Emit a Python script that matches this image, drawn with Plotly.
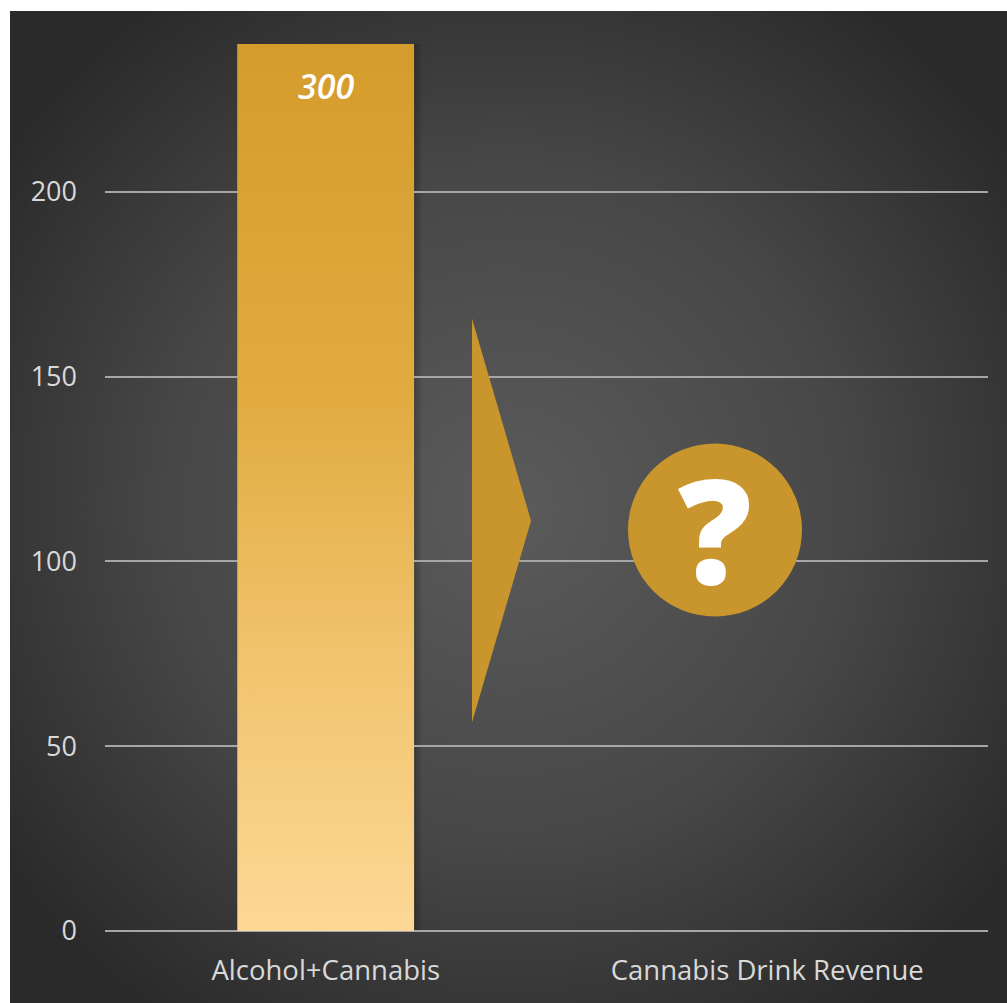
import base64
import plotly.graph_objects as go

# ---- data ----
categories = ["Alcohol+Cannabis", "Cannabis Drink Revenue"]
values = [300, None]
y_ticks = [0, 50, 100, 150, 200]
y_max = 240

W, H = 1007, 1003
L, R, T, B = 105, 19, 44, 72
PW, PH = W - L - R, H - T - B

x_pos = list(range(len(categories)))
bar_w = 0.4

fig = go.Figure()

# main bar (data)
fig.add_trace(go.Bar(
    x=x_pos, y=values, width=bar_w,
    marker=dict(color="#D9A233", line=dict(width=0)),
    hoverinfo="x+y", showlegend=False,
))

# gradient overlay for the bar, built from the bar's values
for i, v in enumerate(values):
    if v is None:
        continue
    fig.add_trace(go.Scatter(
        x=[i - bar_w / 2, i + bar_w / 2, i + bar_w / 2, i - bar_w / 2, i - bar_w / 2],
        y=[0, 0, v, v, 0],
        mode="lines", line=dict(width=0), fill="toself",
        fillgradient=dict(type="vertical", start=0, stop=y_max,
                          colorscale=[[0, "#FDD896"], [0.3, "#F1C46E"],
                                      [0.6, "#E1AB40"], [1, "#D49C2C"]]),
        hoverinfo="skip", showlegend=False,
    ))
    # soft shadow to the right of the bar
    for k, a in enumerate([0.22, 0.12, 0.06]):
        fig.add_shape(type="rect", x0=i + bar_w / 2 + k * 2.5 / 441.5,
                      x1=i + bar_w / 2 + (k + 1) * 2.5 / 441.5,
                      y0=0, y1=min(v, y_max), fillcolor=f"rgba(0,0,0,{a})",
                      line=dict(width=0), layer="below")
    # value label at the visible top of the bar
    fig.add_annotation(
        x=i, y=min(v, y_max), yanchor="top", yshift=-17, showarrow=False,
        text=str(v),
        font=dict(family="Open Sans", size=34, color="white", weight=600, style="italic"),
    )

# radial gradient background
svg = ("<svg xmlns='http://www.w3.org/2000/svg' width='997' height='992' preserveAspectRatio='none'>"
       "<defs><radialGradient id='g' cx='0.5' cy='0.5' r='0.62'>"
       "<stop offset='0' stop-color='#5b5b5b'/><stop offset='0.55' stop-color='#474747'/>"
       "<stop offset='1' stop-color='#2a2a2a'/></radialGradient></defs>"
       "<rect width='997' height='992' fill='url(#g)'/></svg>")
src = "data:image/svg+xml;base64," + base64.b64encode(svg.encode()).decode()
fig.add_layout_image(
    source=src, xref="paper", yref="paper",
    x=(10 - L) / PW, y=1 + (T - 11) / PH,
    sizex=(W - 10) / PW, sizey=(H - 11) / PH,
    xanchor="left", yanchor="top", sizing="stretch", layer="below",
)

gold = "#C9962E"
# arrow-like triangle
fig.add_shape(type="path", path="M 0.3312 165.7 L 0.4649 111.0 L 0.3312 56.4 Z",
              fillcolor=gold, line=dict(width=0), layer="above")
# circle with question mark
fig.add_shape(type="circle", x0=0.6846, x1=1.0787, y0=85.1, y1=131.9,
              fillcolor=gold, line=dict(width=0), layer="above")
fig.add_annotation(x=0.8816, y=108.5, text="?", showarrow=False, yshift=3,
                   font=dict(family="Open Sans", size=146, color="white", weight=800))

fig.update_layout(
    width=W, height=H,
    margin=dict(l=L, r=R, t=T, b=B, pad=0),
    paper_bgcolor="white", plot_bgcolor="rgba(0,0,0,0)",
    font=dict(family="Open Sans", color="#D9D9D9", size=27),
    bargap=0.6, showlegend=False,
)
fig.update_xaxes(
    range=[-0.5, len(categories) - 0.5], tickvals=x_pos, ticktext=categories,
    showgrid=False, zeroline=False, showline=False, ticks="",
    tickfont=dict(size=27.5, color="#D9D9D9"), ticklabelstandoff=20,
)
fig.update_yaxes(
    range=[0, y_max], tickvals=y_ticks, showgrid=True, gridcolor="#A6A6A6", gridwidth=2,
    zeroline=True, zerolinecolor="#A6A6A6", zerolinewidth=2, showline=False, ticks="",
    tickfont=dict(size=27, color="#D9D9D9"), ticklabelstandoff=27,
)

fig.write_html("out.html", config={"displayModeBar": False},
               post_script="document.body.style.margin='0';document.body.style.overflow='hidden';")
